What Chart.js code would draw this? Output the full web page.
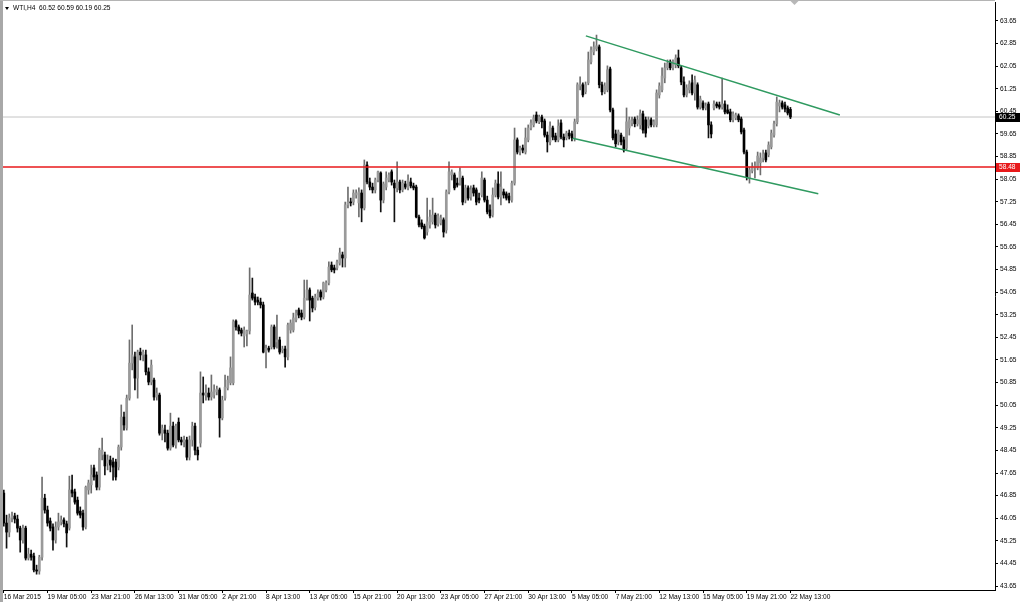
<!DOCTYPE html>
<html>
<head>
<meta charset="utf-8">
<title>WTI,H4</title>
<script src="https://cdn.jsdelivr.net/npm/chart.js@4.4.1/dist/chart.umd.min.js"></script>
<style>
  html, body { margin: 0; padding: 0; background: #fff; overflow: hidden; }
  canvas { display: block; }
</style>
</head>
<body>
<canvas id="chart" width="1024" height="602"></canvas>
<script>
// WTI crude, 4-hour candles, 16 Mar 2015 to 22 May 2015
const opens = [
  46.94, 45.88, 45.56, 46.06, 46.13, 46.02, 45.70, 45.28, 45.70, 44.64,
  44.78, 44.71, 44.22, 44.18, 44.67, 46.76, 46.34, 45.95, 45.74, 45.28,
  45.74, 45.92, 45.99, 45.85, 45.70, 47.05, 46.98, 46.69, 46.30, 46.23,
  45.74, 47.05, 47.23, 47.83, 47.58, 47.15, 48.29, 48.29, 48.00, 48.11,
  48.04, 48.04, 47.86, 48.57, 49.63, 49.24, 50.30, 51.54, 51.76, 51.01,
  51.93, 51.83, 51.83, 51.23, 50.87, 50.94, 50.34, 50.41, 49.06, 49.17,
  49.06, 48.53, 49.31, 48.64, 49.45, 48.82, 48.75, 48.82, 48.21, 48.82,
  49.31, 48.46, 48.71, 50.48, 50.41, 50.48, 50.34, 50.41, 50.52, 50.59,
  49.60, 50.30, 50.66, 50.84, 50.84, 53.03, 52.82, 52.71, 52.50, 52.57,
  52.68, 54.02, 53.88, 53.77, 53.70, 53.60, 51.93, 52.07, 52.11, 52.82,
  52.29, 52.36, 52.00, 52.04, 51.76, 52.71, 52.71, 53.07, 53.42, 53.31,
  53.17, 53.84, 54.13, 53.84, 53.52, 53.84, 54.06, 53.88, 54.13, 54.38,
  55.01, 54.91, 54.91, 55.08, 55.37, 55.26, 57.14, 57.24, 57.24, 57.49,
  57.21, 57.56, 57.03, 58.55, 57.95, 57.77, 57.67, 58.02, 58.27, 57.31,
  57.77, 58.02, 58.31, 57.91, 57.74, 57.95, 57.67, 57.88, 57.74, 57.95,
  57.81, 57.77, 56.71, 56.50, 56.39, 56.18, 56.43, 56.54, 56.78, 56.46,
  56.50, 56.61, 56.25, 57.60, 58.20, 58.20, 57.91, 57.91, 58.09, 57.31,
  57.74, 57.42, 57.74, 57.67, 57.38, 57.49, 58.02, 57.31, 56.96, 56.78,
  57.49, 57.88, 57.42, 57.60, 57.53, 57.45, 57.31, 57.91, 59.44, 59.01,
  59.15, 59.01, 59.44, 59.86, 59.97, 60.32, 60.08, 60.25, 60.11, 59.61,
  59.37, 59.86, 59.58, 59.44, 60.04, 59.54, 59.51, 59.68, 59.65, 59.51,
  60.08, 61.35, 61.39, 61.14, 61.46, 62.20, 62.55, 62.66, 62.73, 61.39,
  61.14, 61.21, 61.95, 60.50, 59.65, 59.37, 59.61, 59.44, 59.15, 59.86,
  60.04, 60.18, 60.01, 59.97, 60.36, 60.15, 59.93, 60.15, 59.97, 59.97,
  61.03, 61.21, 61.63, 61.99, 62.20, 61.99, 62.09, 62.34, 61.99, 61.49,
  61.03, 61.21, 61.46, 61.10, 61.39, 60.60, 60.75, 60.57, 60.71, 59.97,
  60.57, 60.71, 60.68, 60.60, 60.71, 60.50, 60.43, 60.15, 60.22, 60.29,
  60.18, 59.79, 59.01, 58.09, 58.34, 58.45, 58.45, 58.63, 58.80, 58.98,
  58.91, 59.19, 59.61, 60.01, 60.64, 60.75, 60.68, 60.57, 60.52
];
const highs = [
  47.05, 46.16, 46.20, 46.27, 46.23, 46.16, 45.77, 45.81, 45.77, 44.99,
  44.92, 44.82, 44.39, 44.74, 47.51, 46.90, 46.48, 46.06, 45.85, 45.92,
  46.23, 46.13, 46.06, 45.95, 47.54, 47.58, 47.08, 46.80, 46.45, 46.34,
  47.19, 47.40, 47.93, 47.93, 47.69, 48.53, 48.89, 48.39, 48.29, 48.25,
  48.18, 48.14, 48.64, 50.06, 49.81, 50.41, 52.36, 52.89, 51.93, 52.00,
  52.07, 52.00, 52.00, 51.37, 51.65, 51.01, 50.66, 50.48, 49.35, 49.35,
  49.17, 49.77, 49.45, 49.38, 49.60, 48.92, 48.96, 48.92, 48.96, 49.45,
  49.42, 48.57, 51.23, 51.05, 50.77, 50.66, 51.12, 50.77, 50.73, 50.66,
  50.37, 51.12, 51.08, 51.76, 53.07, 53.07, 52.89, 52.78, 52.82, 52.71,
  54.91, 54.55, 53.98, 53.88, 53.84, 53.70, 52.18, 52.14, 52.89, 52.89,
  53.24, 52.46, 52.14, 52.14, 52.96, 53.07, 53.31, 53.42, 53.49, 53.42,
  54.48, 54.48, 54.20, 53.91, 53.98, 54.13, 54.13, 54.41, 54.45, 55.12,
  55.12, 55.01, 55.19, 55.61, 55.47, 57.24, 57.77, 57.38, 57.67, 57.67,
  57.74, 57.67, 58.73, 58.66, 58.09, 57.91, 58.09, 58.34, 58.31, 57.95,
  58.31, 58.27, 58.38, 58.02, 58.66, 58.02, 58.02, 57.98, 58.20, 58.09,
  57.91, 57.84, 56.78, 56.61, 56.46, 57.38, 56.96, 57.38, 56.85, 56.82,
  56.78, 56.68, 57.67, 58.66, 58.38, 58.27, 58.09, 58.45, 58.16, 57.84,
  57.81, 57.81, 57.84, 57.74, 57.56, 58.31, 58.09, 57.45, 57.14, 57.74,
  58.02, 58.31, 58.31, 57.70, 57.60, 57.56, 57.98, 59.86, 59.51, 59.22,
  59.26, 59.86, 59.97, 60.15, 60.32, 60.43, 60.32, 60.32, 60.18, 59.72,
  60.08, 59.93, 59.68, 60.15, 60.15, 59.65, 59.75, 59.79, 59.75, 60.18,
  61.46, 61.67, 61.46, 61.49, 62.55, 62.73, 62.91, 63.15, 62.80, 61.49,
  61.46, 62.06, 62.02, 60.57, 59.79, 59.79, 59.68, 59.54, 60.57, 60.25,
  60.25, 60.25, 60.29, 60.50, 60.46, 60.25, 60.25, 60.22, 60.15, 61.21,
  61.46, 61.99, 62.16, 62.27, 62.27, 62.27, 62.45, 62.62, 62.06, 61.67,
  61.39, 61.53, 61.74, 61.70, 61.46, 60.99, 60.82, 60.75, 60.78, 60.08,
  60.82, 60.78, 60.78, 61.63, 60.82, 60.68, 60.53, 60.43, 60.39, 60.36,
  60.25, 59.86, 59.08, 58.48, 58.63, 58.66, 59.01, 58.98, 59.08, 59.08,
  59.37, 59.79, 60.11, 60.96, 60.85, 60.82, 60.78, 60.64, 60.59
];
const lows = [
  45.77, 44.99, 45.39, 45.92, 45.88, 45.56, 44.85, 45.17, 44.57, 44.57,
  44.57, 44.15, 44.07, 44.07, 44.57, 46.23, 45.77, 45.60, 44.92, 45.17,
  45.63, 45.81, 45.74, 45.03, 45.63, 46.80, 46.55, 46.16, 46.06, 45.63,
  45.67, 46.90, 46.94, 47.40, 47.05, 47.05, 48.11, 47.58, 47.76, 47.69,
  47.40, 47.40, 47.76, 48.46, 49.17, 49.17, 50.23, 51.30, 50.59, 50.30,
  51.65, 51.62, 51.12, 50.77, 50.77, 50.23, 50.23, 48.99, 48.82, 48.75,
  48.46, 48.46, 48.57, 48.53, 48.75, 48.64, 48.57, 48.11, 48.11, 48.60,
  48.29, 48.11, 48.57, 50.13, 50.23, 50.23, 50.23, 50.30, 50.41, 48.92,
  49.53, 50.23, 50.59, 50.77, 50.77, 52.71, 52.57, 52.50, 52.11, 52.15,
  52.57, 53.77, 53.60, 53.60, 53.49, 51.90, 51.37, 51.93, 52.04, 52.04,
  52.07, 51.86, 51.90, 51.40, 51.65, 52.60, 52.64, 53.00, 53.14, 53.07,
  53.10, 53.77, 53.03, 53.35, 53.42, 53.77, 53.77, 53.81, 54.06, 54.31,
  54.77, 54.73, 54.84, 55.01, 54.94, 54.94, 57.03, 57.10, 57.14, 57.38,
  56.71, 56.54, 56.96, 57.88, 57.67, 57.56, 57.56, 57.95, 56.89, 57.21,
  57.67, 57.95, 57.84, 56.54, 57.60, 57.56, 57.60, 57.70, 57.67, 57.74,
  57.67, 56.68, 56.36, 56.29, 55.93, 56.07, 56.32, 56.46, 56.32, 56.39,
  56.43, 56.00, 56.14, 57.53, 58.02, 57.67, 57.77, 57.84, 57.14, 57.21,
  57.31, 57.31, 57.45, 57.14, 57.21, 57.42, 57.24, 56.82, 56.68, 56.71,
  57.42, 57.35, 57.14, 57.38, 57.31, 57.21, 57.24, 57.84, 58.94, 58.91,
  58.98, 58.94, 59.37, 59.79, 59.90, 60.04, 60.01, 59.86, 59.54, 59.01,
  59.26, 59.44, 59.37, 59.37, 59.47, 59.19, 59.44, 59.47, 59.40, 59.40,
  60.01, 61.21, 60.96, 61.07, 61.39, 62.13, 62.45, 62.59, 61.28, 61.03,
  61.07, 61.14, 60.43, 59.44, 59.19, 59.26, 59.26, 59.01, 59.08, 59.61,
  59.93, 59.90, 59.93, 59.83, 59.68, 59.54, 59.86, 59.90, 59.90, 59.90,
  60.92, 61.14, 61.46, 61.92, 61.92, 61.92, 61.99, 61.99, 61.39, 60.96,
  60.96, 61.10, 61.03, 60.85, 60.53, 60.53, 60.50, 60.50, 59.51, 59.51,
  60.50, 60.57, 60.53, 60.53, 60.36, 60.36, 60.08, 60.08, 60.15, 60.08,
  59.65, 58.94, 58.02, 57.91, 58.27, 58.09, 58.38, 58.20, 58.66, 58.66,
  58.84, 59.12, 59.54, 59.93, 60.43, 60.53, 60.43, 60.32, 60.19
];
const closes = [
  45.88, 45.56, 46.06, 46.13, 46.02, 45.70, 45.28, 45.70, 44.64, 44.78,
  44.67, 44.22, 44.18, 44.67, 46.76, 46.34, 45.88, 45.70, 45.28, 45.74,
  45.92, 45.99, 45.85, 45.53, 47.05, 46.94, 46.62, 46.23, 46.16, 45.74,
  47.15, 47.30, 47.58, 47.51, 47.15, 48.46, 48.46, 47.90, 48.11, 47.93,
  47.86, 47.51, 48.57, 49.63, 49.35, 50.30, 51.54, 51.83, 51.01, 51.93,
  51.83, 51.93, 51.23, 50.87, 51.47, 50.34, 50.48, 49.06, 49.24, 49.06,
  48.53, 49.31, 48.64, 49.31, 48.82, 48.75, 48.82, 48.21, 48.82, 49.31,
  48.46, 48.29, 50.48, 50.41, 50.48, 50.34, 50.52, 50.59, 50.62, 49.60,
  50.23, 50.69, 50.94, 51.37, 53.00, 52.82, 52.68, 52.60, 52.71, 52.68,
  53.95, 53.84, 53.70, 53.70, 53.60, 51.93, 52.07, 52.00, 52.82, 52.11,
  52.36, 51.93, 52.04, 51.76, 52.89, 52.96, 53.14, 53.31, 53.24, 53.17,
  53.84, 54.13, 53.77, 53.49, 53.88, 54.02, 53.88, 54.38, 54.38, 54.94,
  54.84, 54.84, 55.12, 55.44, 55.26, 57.14, 57.24, 57.21, 57.56, 57.56,
  57.60, 57.03, 58.55, 57.95, 57.77, 57.67, 58.02, 58.31, 57.31, 57.88,
  58.09, 58.20, 57.95, 57.74, 57.95, 57.67, 57.91, 57.77, 58.02, 57.81,
  57.74, 56.71, 56.43, 56.36, 55.97, 56.54, 56.71, 56.78, 56.43, 56.75,
  56.68, 56.18, 57.60, 58.31, 58.31, 57.74, 57.84, 58.31, 57.24, 57.74,
  57.38, 57.67, 57.56, 57.24, 57.31, 58.09, 57.31, 56.89, 56.75, 57.49,
  57.91, 57.42, 57.77, 57.49, 57.38, 57.31, 57.91, 59.44, 59.01, 59.15,
  59.08, 59.51, 59.86, 60.04, 60.22, 60.11, 60.25, 60.08, 59.61, 59.37,
  59.93, 59.54, 59.44, 59.93, 59.54, 59.44, 59.68, 59.58, 59.51, 60.08,
  61.39, 61.42, 61.03, 61.39, 62.27, 62.62, 62.73, 62.77, 61.39, 61.14,
  61.35, 61.92, 60.50, 59.51, 59.30, 59.72, 59.37, 59.08, 60.08, 60.15,
  60.11, 60.01, 60.15, 60.39, 59.79, 59.68, 60.15, 59.97, 60.08, 61.10,
  61.35, 61.70, 61.99, 62.16, 61.99, 62.20, 62.34, 62.06, 61.49, 61.03,
  61.28, 61.42, 61.10, 61.56, 60.60, 60.89, 60.57, 60.64, 59.97, 59.65,
  60.71, 60.64, 60.60, 60.71, 60.43, 60.39, 60.15, 60.36, 60.32, 60.15,
  59.72, 59.01, 58.12, 58.38, 58.48, 58.52, 58.87, 58.80, 58.94, 58.73,
  59.26, 59.68, 60.01, 60.78, 60.75, 60.60, 60.53, 60.39, 60.25
];

// one time label every 16 bars
const timeLabels = [
  '16 Mar 2015', '19 Mar 05:00', '23 Mar 21:00', '26 Mar 13:00', '31 Mar 05:00',
  '2 Apr 21:00', '8 Apr 13:00', '13 Apr 05:00', '15 Apr 21:00', '20 Apr 13:00',
  '23 Apr 05:00', '27 Apr 21:00', '30 Apr 13:00', '5 May 05:00', '7 May 21:00',
  '12 May 13:00', '15 May 05:00', '19 May 21:00', '22 May 13:00'
];
const priceTicks = [
  43.65, 44.45, 45.25, 46.05, 46.85, 47.65, 48.45, 49.25, 50.05, 50.85,
  51.65, 52.45, 53.25, 54.05, 54.85, 55.65, 56.45, 57.25, 58.05, 58.85,
  59.65, 60.45, 61.25, 62.05, 62.85, 63.65
];

// drawn objects: horizontal level, bid line and the falling channel (bar index, price)
const supportLevel = 58.48;
const bidPrice = 60.25;
const upperChannel = [[213.1, 63.12], [306.1, 60.32]];
const lowerChannel = [[208.3, 59.50], [298.2, 57.53]];

const xMin = -0.3;
const xMax = 362.9;
const last = closes.length - 1;

const isUp = i => closes[i] >= opens[i];

function flatLine(price) {
    return [{ x: xMin, y: price }, { x: xMax, y: price }];
}

function pairs(points) {
    return points.map(p => ({ x: p[0], y: p[1] }));
}

const mt4Frame = {
    id: 'mt4Frame',
    beforeDraw(chart) {
        const ctx = chart.ctx;
        ctx.save();
        ctx.fillStyle = '#ffffff';
        ctx.fillRect(0, 0, chart.width, chart.height);
        ctx.restore();
    },
    afterDraw(chart) {
        const { ctx, chartArea } = chart;
        const y = chart.scales.y;
        const x = chart.scales.x;
        ctx.save();

        // window border
        ctx.fillStyle = '#a8a8a8';
        ctx.fillRect(0, 0, 3, chart.height);
        ctx.fillStyle = '#b4b4b4';
        ctx.fillRect(0, 0, chartArea.right, 1);

        // chart shift marker
        const sx = x.getPixelForValue(last + 1.5);
        ctx.fillStyle = '#b8b8b8';
        ctx.beginPath();
        ctx.moveTo(sx - 4, 1);
        ctx.lineTo(sx + 4, 1);
        ctx.lineTo(sx, 5);
        ctx.closePath();
        ctx.fill();

        // header
        ctx.fillStyle = '#000';
        ctx.beginPath();
        ctx.moveTo(5, 7);
        ctx.lineTo(9, 7);
        ctx.lineTo(7, 10);
        ctx.closePath();
        ctx.fill();
        ctx.font = '6.6px "Liberation Sans"';
        ctx.textBaseline = 'middle';
        ctx.textAlign = 'left';
        const head = 'WTI,H4  ' + [opens[last], highs[last], lows[last], closes[last]]
            .map(v => v.toFixed(2)).join(' ');
        ctx.fillText(head, 13, 8.5);

        // price boxes on the axis
        const boxes = [[bidPrice, '#000000'], [supportLevel, '#e8191b']];
        boxes.forEach(([price, color]) => {
            const py = Math.round(y.getPixelForValue(price));
            ctx.fillStyle = color;
            ctx.fillRect(chartArea.right + 1, py - 4, 24, 9);
            ctx.fillStyle = '#ffffff';
            ctx.fillText(price.toFixed(2), chartArea.right + 4, py + 0.5);
        });
        ctx.restore();
    }
};

new Chart(document.getElementById('chart').getContext('2d'), {
    type: 'bar',
    data: {
        datasets: [
            {
                type: 'line',
                data: flatLine(bidPrice),
                borderColor: '#c4c4c4',
                borderWidth: 1,
                pointRadius: 0,
                order: 5
            },
            {
                label: 'wicks',
                data: highs.map((h, i) => ({ x: i, y: [lows[i], h] })),
                backgroundColor: c => (c.type === 'data' && isUp(c.dataIndex)) ? '#6e6e6e' : '#111111',
                barThickness: 1,
                grouped: false,
                borderWidth: 0,
                order: 4
            },
            {
                label: 'bodies',
                data: opens.map((o, i) => ({ x: i, y: [o, closes[i]] })),
                backgroundColor: c => (c.type === 'data' && isUp(c.dataIndex)) ? '#9a9a9a' : '#000000',
                barThickness: 2,
                minBarLength: 1,
                grouped: false,
                borderWidth: 0,
                order: 3
            },
            {
                type: 'line',
                data: flatLine(supportLevel),
                borderColor: '#e8191b',
                borderWidth: 1.6,
                pointRadius: 0,
                order: 1
            },
            {
                type: 'line',
                data: pairs(upperChannel),
                borderColor: '#2f9a60',
                borderWidth: 1.5,
                pointRadius: 0,
                order: 0
            },
            {
                type: 'line',
                data: pairs(lowerChannel),
                borderColor: '#2f9a60',
                borderWidth: 1.5,
                pointRadius: 0,
                order: 0
            }
        ]
    },
    options: {
        responsive: false,
        animation: false,
        devicePixelRatio: 1,
        layout: { padding: { left: 3, top: 2, right: 0, bottom: 0 } },
        plugins: {
            legend: { display: false },
            tooltip: { enabled: false }
        },
        scales: {
            x: {
                type: 'linear',
                min: xMin,
                max: xMax,
                offset: false,
                grid: { drawOnChartArea: false, offset: false, tickLength: 3, tickColor: '#000' },
                border: { color: '#000' },
                afterBuildTicks: s => { s.ticks = timeLabels.map((_, k) => ({ value: k * 16 })); },
                afterFit: s => { s.height = 12; s.paddingLeft = 0; s.paddingRight = 0; },
                ticks: {
                    autoSkip: false,
                    maxRotation: 0,
                    align: 'start',
                    padding: 0,
                    color: '#000',
                    font: { family: 'Liberation Sans', size: 6.6 },
                    callback: v => timeLabels[Math.round(v / 16)] || ''
                }
            },
            y: {
                position: 'right',
                min: 43.51,
                max: 64.32,
                beginAtZero: false,
                grid: { drawOnChartArea: false, tickLength: 3, tickColor: '#000' },
                border: { color: '#000' },
                afterBuildTicks: s => { s.ticks = priceTicks.map(v => ({ value: v })); },
                afterFit: s => { s.width = 29; s.paddingTop = 0; s.paddingBottom = 0; },
                ticks: {
                    padding: 2,
                    color: '#000',
                    font: { family: 'Liberation Sans', size: 6.6 },
                    callback: v => v.toFixed(2)
                }
            }
        }
    },
    plugins: [mt4Frame]
});
</script>
</body>
</html>
